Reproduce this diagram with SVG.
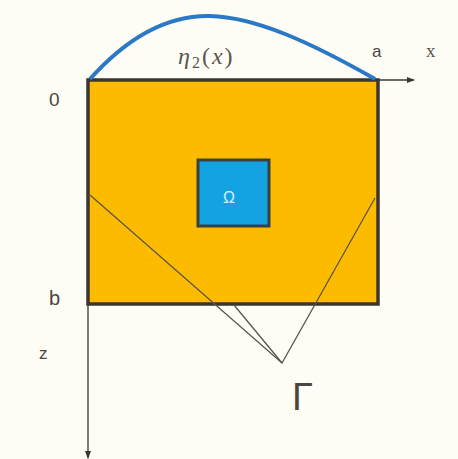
<svg xmlns="http://www.w3.org/2000/svg" width="458" height="459" viewBox="0 0 458 459">
<defs>
<marker id="arr" markerWidth="8" markerHeight="6" refX="7" refY="3" orient="auto" markerUnits="userSpaceOnUse">
<path d="M0,0 L8,3 L0,6 Z" fill="#3a3530"/>
</marker>
<style>
.lbl{font-family:"Liberation Sans",Arial,sans-serif;fill:#4a4540}
.thin{fill:none;stroke:#5a5550;stroke-width:1.3}
</style>
</defs>
<rect width="458" height="459" fill="#fefdf5"/>
<g id="domain">
<rect x="88" y="80" width="290" height="224" fill="#fdbb00" stroke="#3a3530" stroke-width="3.5"/>
</g>
<g id="omega">
<rect x="198" y="160" width="71" height="66" fill="#13a3e3" stroke="#3a4040" stroke-width="3"/>
<text x="223" y="203" class="lbl" style="fill:#d8f0ff;font-size:16px">Ω</text>
</g>
<g id="connectors">
<line x1="378" y1="80" x2="414" y2="80" stroke="#3a3530" stroke-width="1.3" marker-end="url(#arr)"/>
<line x1="88" y1="305" x2="88" y2="458" stroke="#3a3530" stroke-width="1.3" marker-end="url(#arr)"/>
<polyline class="thin" points="90,195 282,363 375,198"/>
<line class="thin" x1="234" y1="305" x2="282" y2="363"/>
<path d="M90,79 C125,40 165,15 210,16 C255,17 310,42 375,79" fill="none" stroke="#2a78c6" stroke-width="4"/>
</g>
<g id="labels">
<text x="178" y="64" style="font-family:'Liberation Serif',serif;font-style:italic;font-size:24px;letter-spacing:2px;fill:#5a5550">η<tspan font-size="16" dy="4" font-style="normal">2</tspan><tspan dy="-4" font-style="normal">(</tspan>x<tspan font-style="normal">)</tspan></text>
<text x="372" y="57" class="lbl" style="font-size:17px">a</text>
<text x="426" y="57" style="font-family:'Liberation Serif',serif;font-size:19px;fill:#5a5550">x</text>
<text x="49" y="106" class="lbl" style="font-size:19px">0</text>
<text x="49" y="305" class="lbl" style="font-size:20px">b</text>
<text x="39" y="359" class="lbl" style="font-size:17px">z</text>
<text x="292" y="410" class="lbl" style="font-size:38px">Γ</text>
</g>
</svg>
